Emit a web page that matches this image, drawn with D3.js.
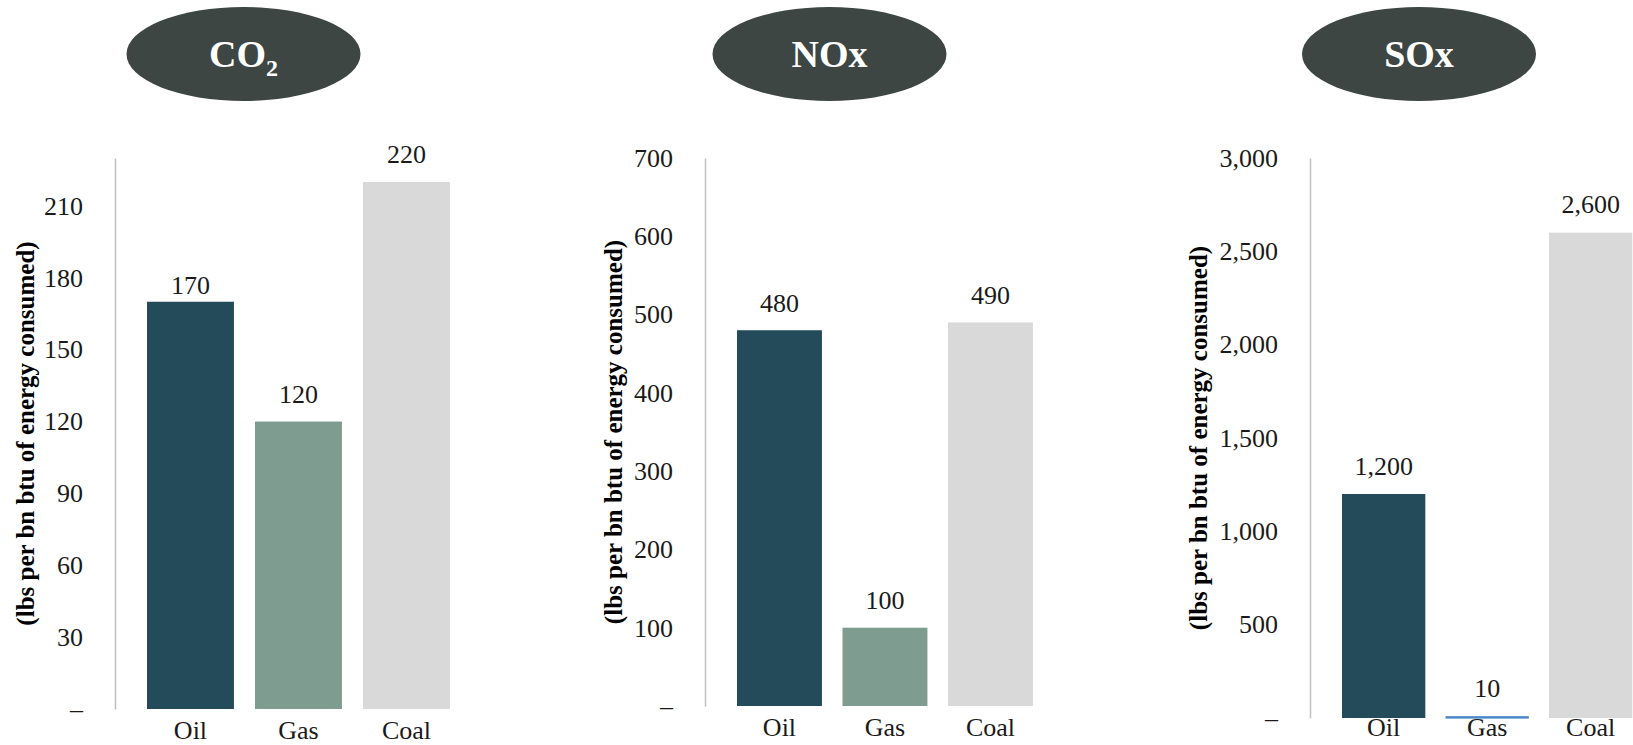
<!DOCTYPE html>
<html>
<head>
<meta charset="utf-8">
<script src="https://cdn.jsdelivr.net/npm/d3@7"></script>
<style>
  body { margin: 0; background: #fff; }
  svg { display: block; }
</style>
</head>
<body>
<svg id="chart" width="1633" height="745"></svg>
<script>
// data
const categories = ['Oil', 'Gas', 'Coal'];
const pollutants = ['CO', 'NOx', 'SOx'];
const co2Values = [170, 120, 220];
const noxValues = [480, 100, 490];
const soxValues = [1200, 10, 2600];
const co2Ticks = [0, 30, 60, 90, 120, 150, 180, 210];
const noxTicks = [0, 100, 200, 300, 400, 500, 600, 700];
const soxTicks = [0, 500, 1000, 1500, 2000, 2500, 3000];
const axisMax = [230, 700, 3000];
const yTitle = '(lbs per bn btu of energy consumed)';

const barColors = ['#244b5a', '#7e9d90', '#d9d9d9'];
const headColor = '#3d4642';
const fontFamily = '"Liberation Serif", "Times New Roman", serif';

// layout for each of the three small charts
const layout = [
    { axisX: 115, step: 108, zeroY: 709, topY: 158, headX: 243.5, titleX: 25, lift: [16, 27, 27], catPad: 12 },
    { axisX: 705, step: 105.5, zeroY: 706, topY: 158, headX: 829.5, titleX: 613, lift: [27, 27, 27], catPad: 12 },
    { axisX: 1310, step: 103.5, zeroY: 718, topY: 158, headX: 1419, titleX: 1198, lift: [27, 27, 28], catPad: 0, colors: ['#244b5a', '#4a89c8', '#d9d9d9'] }
];

const valueSets = [co2Values, noxValues, soxValues];
const tickSets = [co2Ticks, noxTicks, soxTicks];

const svg = d3.select('#chart');
const fmt = d3.format(',');

valueSets.forEach((values, p) => {
    const L = layout[p];
    const colors = L.colors || barColors;
    const g = svg.append('g');

    // header ellipse
    g.append('ellipse')
        .attr('cx', L.headX)
        .attr('cy', 54)
        .attr('rx', 117)
        .attr('ry', 47)
        .attr('fill', headColor);

    const head = g.append('text')
        .attr('x', L.headX)
        .attr('y', 67)
        .attr('text-anchor', 'middle')
        .attr('fill', '#fff')
        .attr('font-family', fontFamily)
        .attr('font-size', '38px')
        .attr('font-weight', 'bold')
        .text(pollutants[p]);
    if (p === 0) {
        head.append('tspan')
            .attr('font-size', '24px')
            .attr('dy', 9)
            .text('2');
    }

    const x0 = L.axisX + 32 - L.step * 0.0975;
    const x = d3.scaleBand()
        .domain(categories)
        .range([x0, x0 + L.step * 3])
        .paddingInner(0.195)
        .paddingOuter(0.0975);

    const y = d3.scaleLinear()
        .domain([0, axisMax[p]])
        .range([L.zeroY, L.topY]);

    // y axis
    const yAxis = g.append('g')
        .attr('transform', `translate(${L.axisX},0)`)
        .call(d3.axisLeft(y)
            .tickValues(tickSets[p])
            .tickSize(0)
            .tickSizeOuter(0)
            .tickPadding(32)
            .tickFormat(d => d === 0 ? '–' : fmt(d)));
    yAxis.select('.domain')
        .attr('stroke', '#c0c0c0')
        .attr('stroke-width', 1.5);
    yAxis.selectAll('text')
        .attr('fill', '#1a1a1a')
        .attr('font-family', fontFamily)
        .attr('font-size', '26px');

    // bars
    g.selectAll('rect.bar')
        .data(values)
        .enter()
        .append('rect')
        .attr('class', 'bar')
        .attr('x', (d, i) => x(categories[i]))
        .attr('y', d => y(d))
        .attr('width', x.bandwidth())
        .attr('height', d => Math.max(L.zeroY - y(d), 2.5))
        .attr('fill', (d, i) => colors[i]);

    // value labels
    g.selectAll('text.value')
        .data(values)
        .enter()
        .append('text')
        .attr('class', 'value')
        .attr('x', (d, i) => x(categories[i]) + x.bandwidth() / 2)
        .attr('y', (d, i) => y(d) - L.lift[i])
        .attr('dy', '0.32em')
        .attr('text-anchor', 'middle')
        .attr('fill', '#1a1a1a')
        .attr('font-family', fontFamily)
        .attr('font-size', '26px')
        .text(d => fmt(d));

    // category axis
    const xAxis = g.append('g')
        .attr('transform', `translate(0,${L.zeroY})`)
        .call(d3.axisBottom(x).tickSize(0).tickPadding(L.catPad));
    xAxis.select('.domain').remove();
    xAxis.selectAll('text')
        .attr('fill', '#1a1a1a')
        .attr('font-family', fontFamily)
        .attr('font-size', '26px');

    // y axis title
    g.append('text')
        .attr('transform', `translate(${L.titleX},${(L.topY + L.zeroY) / 2}) rotate(-90)`)
        .attr('text-anchor', 'middle')
        .attr('dy', '0.35em')
        .attr('fill', '#000')
        .attr('font-family', fontFamily)
        .attr('font-size', '25px')
        .attr('font-weight', 'bold')
        .text(yTitle);
});
</script>
</body>
</html>
